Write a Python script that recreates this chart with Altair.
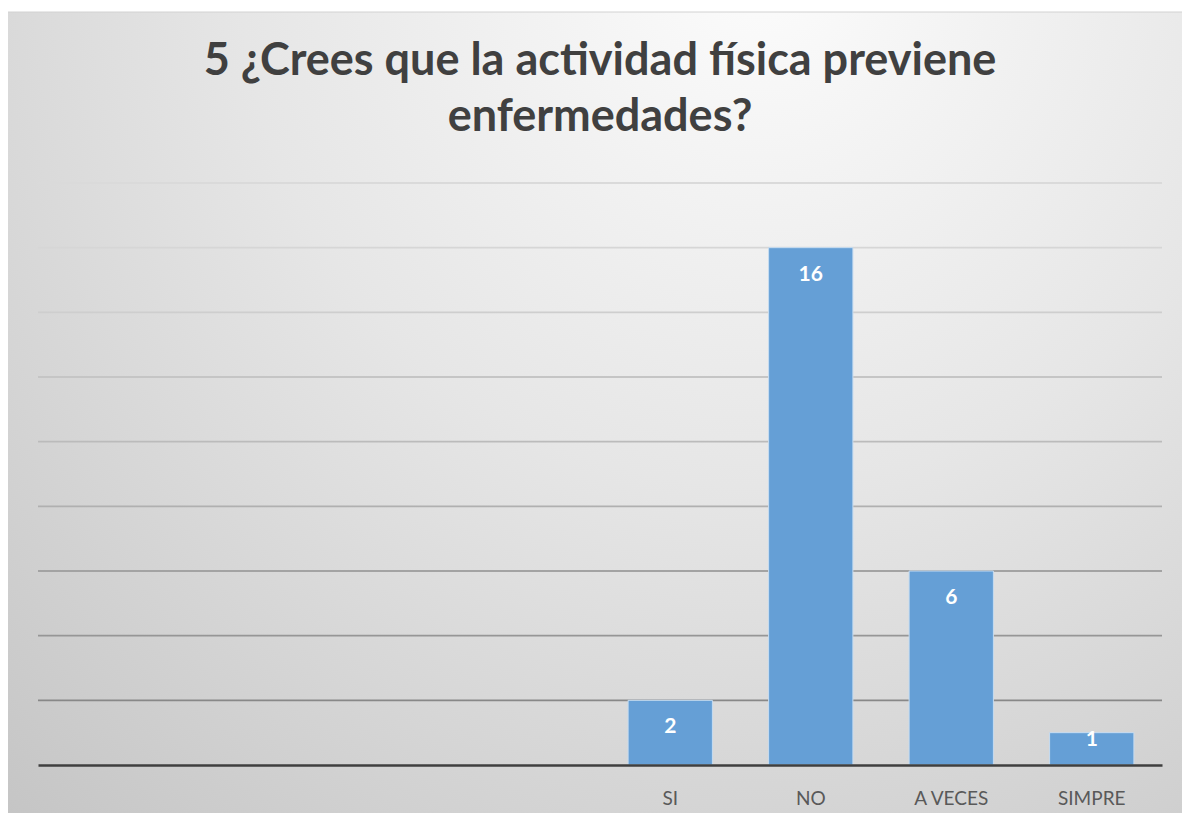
import altair as alt
import pandas as pd

# ---- data ----
slots_vacios = ["", " ", "  ", "   "]
categorias = ["SI", "NO", "A VECES", "SIMPRE"]
valores = [2, 16, 6, 1]
grid_vals = [2, 4, 6, 8, 10, 12, 14, 16, 18]
titulo = ["5 ¿Crees que la actividad física previene", "enfermedades?"]

W, H = 1124, 582
FONT = "Lato"

df = pd.DataFrame({"cat": categorias, "val": valores})
df_grid = pd.DataFrame({"v": grid_vals})
df_bg = pd.DataFrame({"a": [0]})

yscale = alt.Scale(domain=[0, 18], nice=False, zero=True)
xscale = alt.Scale(domain=slots_vacios + categorias, paddingInner=0.4, paddingOuter=0.2)

bg = alt.Chart(df_bg).mark_rect(
    fill={
        "gradient": "radial",
        "x1": 0.62, "y1": 0.12, "r1": 0,
        "x2": 0.62, "y2": 0.12, "r2": 0.95,
        "stops": [
            {"offset": 0, "color": "#fcfcfc"},
            {"offset": 0.45, "color": "#e6e6e6"},
            {"offset": 1, "color": "#c4c4c4"},
        ],
    },
    stroke="#d2d2d2",
    strokeWidth=1,
).encode(
    x=alt.value(-31), x2=alt.value(W + 60),
    y=alt.value(-171), y2=alt.value(H + 80),
)

grid = alt.Chart(df_grid).transform_calculate(
    g="round(218 - pow((18 - datum.v) / 16, 1.4) * 82)"
).transform_calculate(
    c="'rgb(' + datum.g + ',' + datum.g + ',' + datum.g + ')'"
).mark_rule(strokeWidth=1.8).encode(
    y=alt.Y("v:Q", scale=yscale, axis=None),
    x=alt.value(0), x2=alt.value(W),
    color=alt.Color("c:N", scale=None),
)

bars = alt.Chart(df).mark_bar(
    color="#659fd6", stroke="#c6dcf1", strokeWidth=1
).encode(
    x=alt.X("cat:N", scale=xscale, sort=None, axis=alt.Axis(
        title=None, labelAngle=0, ticks=False, tickSize=0,
        domainColor="#3f3f3f", domainWidth=2.5,
        labelFont=FONT, labelFontSize=19, labelColor="#595959",
        labelBaseline="middle", labelPadding=33, zindex=1,
    )),
    y=alt.Y("val:Q", scale=yscale, axis=None),
)

labels = alt.Chart(df).transform_calculate(
    ly="max(datum.val - 0.835, 0.77)"
).mark_text(
    color="white", font=FONT, fontWeight="bold", fontSize=21, baseline="middle"
).encode(
    x=alt.X("cat:N", scale=xscale, sort=None),
    y=alt.Y("ly:Q", scale=yscale, axis=None),
    text=alt.Text("val:Q"),
)

chart = alt.layer(bg, grid, bars, labels).properties(
    width=W, height=H,
    title=alt.TitleParams(
        text=titulo, font=FONT, fontSize=45, fontWeight="bold",
        color="#404040", anchor="middle", baseline="alphabetic",
        lineHeight=56, offset=-164,
    ),
    autosize=alt.AutoSizeParams(type="none"),
    padding={"left": 30, "top": 175, "right": 20, "bottom": 48},
).configure_view(stroke=None).configure(background="white")

chart.save("out.html", embed_options={"renderer": "svg", "actions": False})
